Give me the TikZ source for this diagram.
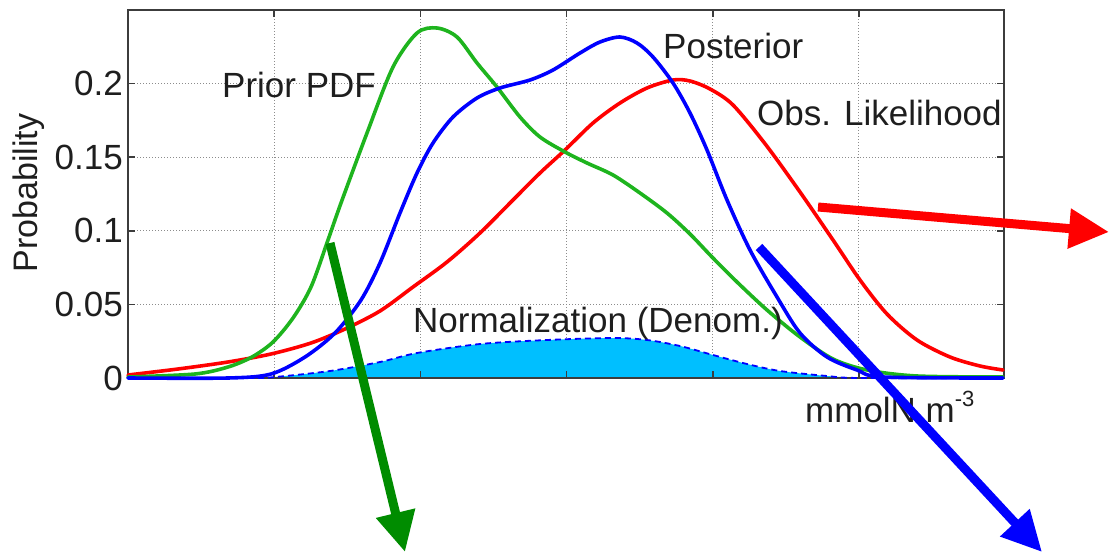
\documentclass[tikz,border=0pt]{standalone}
\usepackage{fontspec}
\setmainfont{Liberation Sans}
\usetikzlibrary{arrows.meta}
\definecolor{pgreen}{RGB}{30,180,30}
\definecolor{agreen}{RGB}{0,140,0}
\definecolor{fillc}{RGB}{0,191,255}
\definecolor{txt}{RGB}{30,30,30}
\definecolor{axisc}{RGB}{60,60,60}
\begin{document}
\begin{tikzpicture}[x=1pt,y=-1pt,
  lbl/.style={font=\fontsize{35}{42}\selectfont, text=txt, inner sep=0pt},
  curve/.style={line width=3.6pt, line join=round, line cap=round},
  bigarrow/.style={line width=9pt, -{Triangle[length=40pt,width=38pt]}},
  gridline/.style={black!45, line width=1pt, dotted},
  tickline/.style={axisc, line width=1.5pt}]
\useasboundingbox (0,0) rectangle (1109,554);

% grid
\foreach \x in {274.2,420.4,566.6,712.8,858.8} \draw[gridline] (\x,10) -- (\x,378);
\foreach \y in {83.6,157.2,230.8,304.4} \draw[gridline] (128,\y) -- (1004,\y);

% normalization fill
\fill[fillc] (128,378) -- plot[smooth] coordinates {(250,378) (275,377) (330,371) (380,362) (417,353) (480,344) (547,340) (613,338) (647,340) (680,346) (713,355) (747,364) (780,371) (827,376) (860,378)} -- cycle;

% axes box and ticks
\draw[axisc, line width=2pt] (128,10) rectangle (1004,378);
\foreach \x in {274.2,420.4,566.6,712.8,858.8} {\draw[tickline] (\x,378) -- (\x,371); \draw[tickline] (\x,10) -- (\x,17);}
\foreach \y in {83.6,157.2,230.8,304.4} {\draw[tickline] (128,\y) -- (135,\y); \draw[tickline] (1004,\y) -- (997,\y);}

\draw[blue, line width=1.8pt, dash pattern=on 6pt off 4pt] plot[smooth] coordinates {(128,378) (250,378) (275,377) (330,371) (380,362) (417,353) (480,344) (547,340) (613,338) (647,340) (680,346) (713,355) (747,364) (780,371) (827,376) (860,378) (1003,378)};

% likelihood (red)
\draw[curve, red] plot[smooth] coordinates {(128,375) (178,369) (228,362) (271,354) (311,343) (345,329) (380,311) (413,287) (447,262) (480,233) (513,200) (540,173) (565,150) (593,123) (620,103) (647,88) (673,80) (690,81) (710,89) (733,105) (766,145) (800,192) (833,240) (860,280) (887,314) (917,340) (950,357) (980,366) (1003,370)};

% prior (green)
\draw[curve, pgreen] plot[smooth] coordinates {(128,377) (195,374) (228,367) (252,357) (273,342) (293,318) (311,287) (328,240) (341,203) (367,133) (393,67) (417,33) (437,28) (457,37) (477,63) (497,87) (520,117) (540,137) (565,152) (587,163) (613,175) (640,193) (667,213) (690,234) (712,257) (737,282) (767,310) (800,337) (833,359) (867,370) (917,376) (1003,377)};

% posterior (blue)
\draw[curve, blue] plot[smooth] coordinates {(128,378) (228,378) (271,374) (305,357) (335,333) (361,300) (380,263) (400,213) (417,173) (433,143) (453,117) (477,98) (500,88) (530,80) (553,70) (580,53) (600,42) (620,37) (637,43) (653,57) (673,83) (690,113) (707,150) (727,200) (750,250) (777,297) (800,333) (827,357) (857,370) (883,377) (1003,378)};

% tick labels
\node[lbl, anchor=east] (t0) at (123,378) {0};
\node[lbl, anchor=east] (t1) at (123,304.4) {0.05};
\node[lbl, anchor=east] (t2) at (123,230.8) {0.1};
\node[lbl, anchor=east] (t3) at (123,157.2) {0.15};
\node[lbl, anchor=east] (t4) at (123,83.6) {0.2};
\node[lbl, rotate=90, font=\fontsize{34}{40}\selectfont] (ylab) at (29,193) {Probability};

% curve labels
\node[lbl, anchor=base west] (lprior) at (222,97) {Prior PDF};
\node[lbl, anchor=base west] (lpost) at (663,58) {Posterior};
\node[lbl, anchor=base west] (llik) at (757,125) {Obs. Likelihood};
\node[lbl, anchor=base west] (lnorm) at (413,332) {Normalization (Denom.)};
\node[lbl, anchor=base west] (xlab) at (805,422) {mmolN m\raisebox{0.45em}{\fontsize{22}{24}\selectfont -3}};

% arrows
\coordinate (gs) at (330,243); \coordinate (ge) at (405,552);
\coordinate (rs) at (818,207); \coordinate (re) at (1109,232);
\coordinate (bs) at (759,247); \coordinate (be) at (1042,552);
\draw[bigarrow, agreen] (gs) -- (ge);
\draw[bigarrow, red] (rs) -- (re);
\draw[bigarrow, blue] (bs) -- (be);
\end{tikzpicture}
\end{document}
